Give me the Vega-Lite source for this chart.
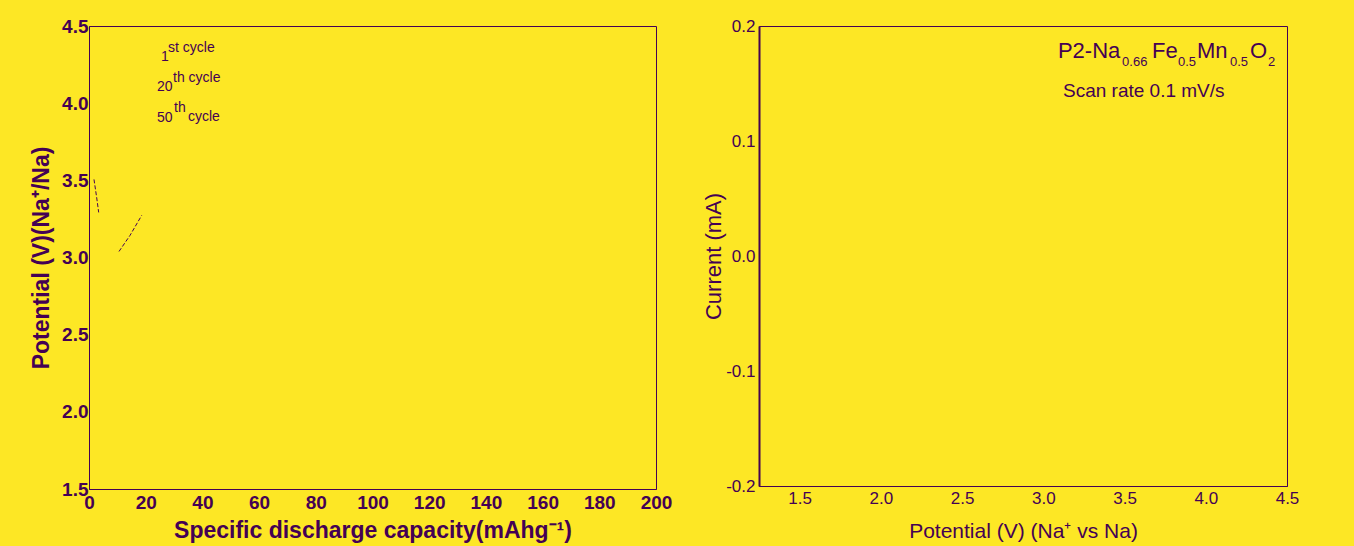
{
  "$schema": "https://vega.github.io/schema/vega-lite/v6.json",
  "background": "#FDE725",
  "padding": {"left": 30, "top": 16, "right": 58, "bottom": 3},
  "spacing": 29,
  "config": {
    "font": "Liberation Sans",
    "view": {"stroke": "#440154", "strokeWidth": 1, "fill": "#FDE725"},
    "axis": {
      "grid": false,
      "ticks": false,
      "tickSize": 0,
      "domainColor": "#440154",
      "labelColor": "#440154",
      "titleColor": "#440154",
      "labelFont": "Liberation Sans",
      "titleFont": "Liberation Sans",
      "labelFlush": false,
      "labelOverlap": false
    },
    "text": {"color": "#440154", "font": "Liberation Sans"}
  },
  "hconcat": [
    {
      "width": 567,
      "height": 463,
      "layer": [
        {
          "data": {"values": [
            {"cap": 1.76, "pot": 3.506, "seg": "a"},
            {"cap": 2.65, "pot": 3.396, "seg": "a"},
            {"cap": 3.42, "pot": 3.292, "seg": "a"},
            {"cap": 10.58, "pot": 3.039, "seg": "b"},
            {"cap": 14.46, "pot": 3.143, "seg": "b"},
            {"cap": 18.59, "pot": 3.273, "seg": "b"}
          ]},
          "mark": {"type": "line", "color": "#440154", "strokeWidth": 1, "strokeDash": [4, 2]},
          "encoding": {
            "x": {
              "field": "cap", "type": "quantitative",
              "scale": {"domain": [0, 200], "nice": false, "zero": false},
              "axis": {
                "values": [0, 20, 40, 60, 80, 100, 120, 140, 160, 180, 200],
                "labelFontSize": 19, "labelFontWeight": "bold", "labelPadding": 4,
                "title": "Specific discharge capacity(mAhg⁻¹)",
                "titleFontSize": 23, "titleFontWeight": "bold", "titlePadding": 7
              }
            },
            "y": {
              "field": "pot", "type": "quantitative",
              "scale": {"domain": [1.5, 4.5], "nice": false, "zero": false},
              "axis": {
                "values": [1.5, 2.0, 2.5, 3.0, 3.5, 4.0, 4.5],
                "format": ".1f",
                "labelFontSize": 19, "labelFontWeight": "bold", "labelPadding": 1,
                "title": "Potential (V)(Na⁺/Na)",
                "titleFontSize": 23, "titleFontWeight": "bold", "titlePadding": 8
              }
            },
            "detail": {"field": "seg", "type": "nominal"}
          }
        },
        {
          "data": {"values": [
            {"cap": 25.4, "pot": 4.276, "label": "1"},
            {"cap": 27.87, "pot": 4.331, "label": "st cycle"},
            {"cap": 23.99, "pot": 4.08, "label": "20"},
            {"cap": 29.63, "pot": 4.136, "label": "th cycle"},
            {"cap": 23.99, "pot": 3.877, "label": "50"},
            {"cap": 29.98, "pot": 3.942, "label": "th"},
            {"cap": 34.92, "pot": 3.883, "label": "cycle"}
          ]},
          "mark": {"type": "text", "align": "left", "baseline": "alphabetic", "fontSize": 14},
          "encoding": {
            "x": {"field": "cap", "type": "quantitative"},
            "y": {"field": "pot", "type": "quantitative"},
            "text": {"field": "label"}
          }
        }
      ]
    },
    {
      "width": 528,
      "height": 460,
      "layer": [
        {
          "data": {"values": [
            {"v": 3.09, "i": 0.1725, "label": "P2-Na"},
            {"v": 3.669, "i": 0.1725, "label": "Fe"},
            {"v": 3.946, "i": 0.1725, "label": "Mn"},
            {"v": 4.272, "i": 0.1725, "label": "O"}
          ]},
          "mark": {"type": "text", "align": "left", "baseline": "alphabetic", "fontSize": 22},
          "encoding": {
            "x": {
              "field": "v", "type": "quantitative",
              "scale": {"domain": [1.25, 4.5], "nice": false, "zero": false},
              "axis": {
                "values": [1.5, 2.0, 2.5, 3.0, 3.5, 4.0, 4.5],
                "format": ".1f",
                "labelFontSize": 17, "labelPadding": 4,
                "title": "Potential (V) (Na⁺ vs Na)",
                "titleFontSize": 21, "titleFontWeight": "normal", "titlePadding": 14
              }
            },
            "y": {
              "field": "i", "type": "quantitative",
              "scale": {"domain": [-0.2, 0.2], "nice": false, "zero": false},
              "axis": {
                "values": [-0.2, -0.1, 0.0, 0.1, 0.2],
                "format": ".1f",
                "labelExpr": "replace(datum.label, '−', '-')",
                "labelFontSize": 17, "labelPadding": 4,
                "domainWidth": 2,
                "title": "Current (mA)",
                "titleFontSize": 22, "titleFontWeight": "normal", "titlePadding": 0
              }
            },
            "text": {"field": "label"}
          }
        },
        {
          "data": {"values": [
            {"v": 3.485, "i": 0.1653, "label": "0.66"},
            {"v": 3.829, "i": 0.1653, "label": "0.5"},
            {"v": 4.149, "i": 0.1653, "label": "0.5"},
            {"v": 4.383, "i": 0.1653, "label": "2"}
          ]},
          "mark": {"type": "text", "align": "left", "baseline": "alphabetic", "fontSize": 13},
          "encoding": {
            "x": {"field": "v", "type": "quantitative"},
            "y": {"field": "i", "type": "quantitative"},
            "text": {"field": "label"}
          }
        },
        {
          "data": {"values": [
            {"v": 3.121, "i": 0.1384, "label": "Scan rate 0.1 mV/s"}
          ]},
          "mark": {"type": "text", "align": "left", "baseline": "alphabetic", "fontSize": 19},
          "encoding": {
            "x": {"field": "v", "type": "quantitative"},
            "y": {"field": "i", "type": "quantitative"},
            "text": {"field": "label"}
          }
        }
      ]
    }
  ]
}
